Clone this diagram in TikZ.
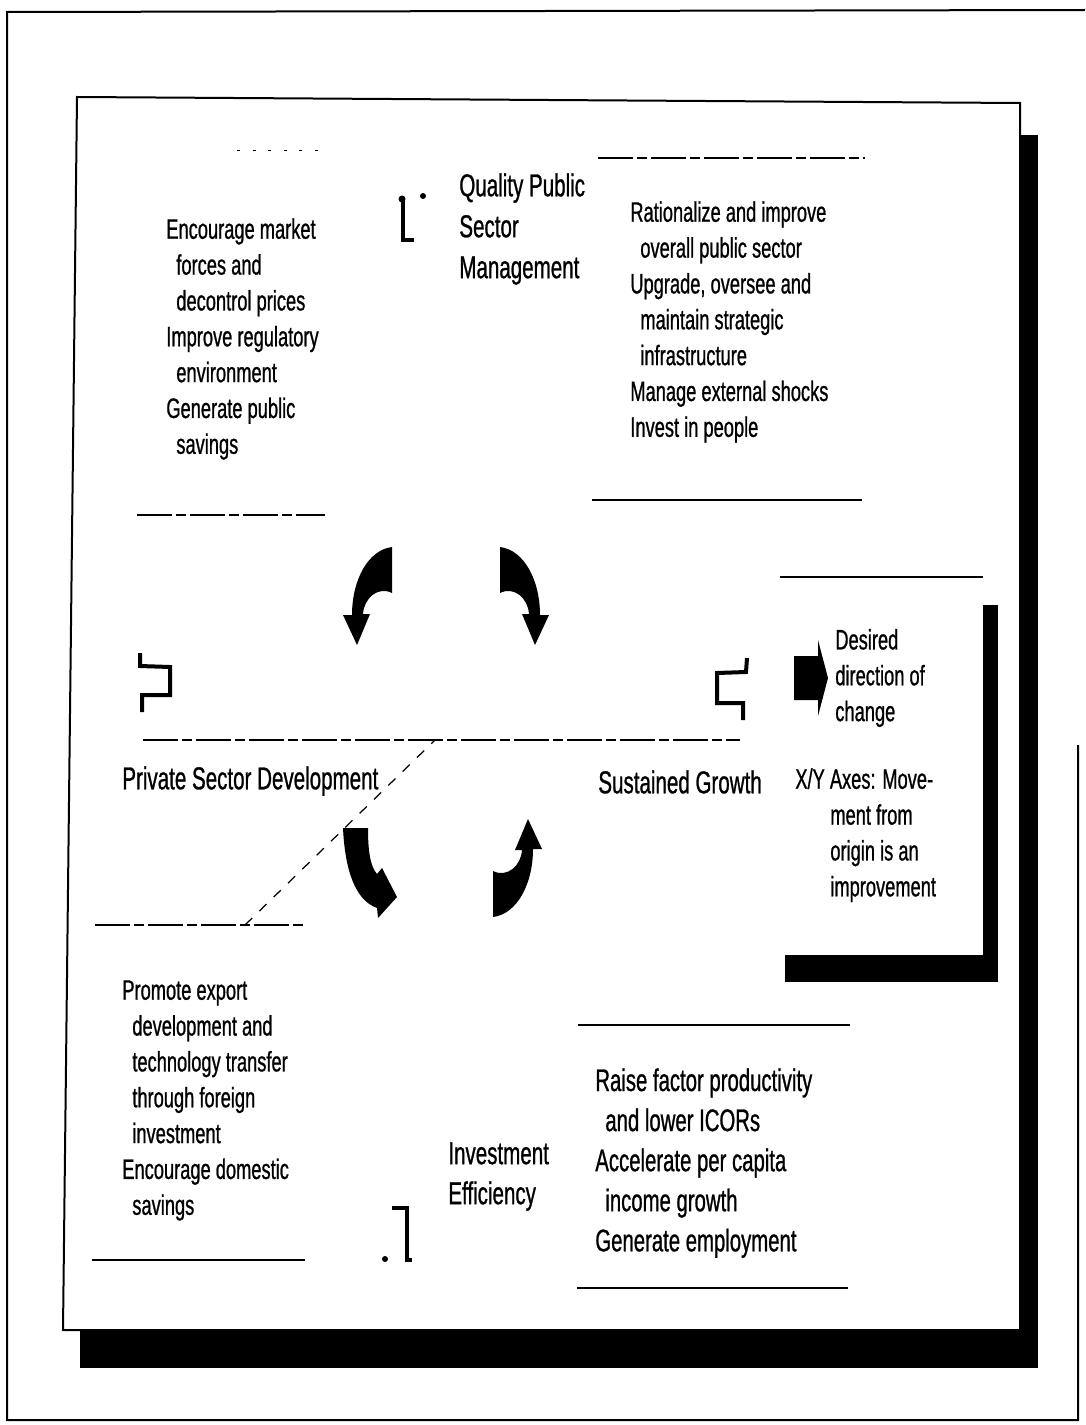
\documentclass[tikz,border=0pt]{standalone}
\usepackage{fontspec}
\setmainfont{Liberation Sans}[FakeStretch=0.65,FakeBold=0.8]
\usetikzlibrary{positioning}
\newcommand\indt{\hspace*{2mm}}

\begin{document}
\begin{tikzpicture}
    [
    x=0.2mm, y=-0.2mm,
    listtext/.style={anchor=north west, align=left, inner sep=0pt, font=\fontsize{16}{20.4}\selectfont},
    heading/.style={anchor=north west, align=left, inner sep=0pt, font=\fontsize{18}{23.3}\selectfont},
    rule/.style={line width=0.25mm, dash pattern=on 7mm off 0.8mm on 2mm off 0.8mm},
    solidrule/.style={line width=0.3mm},
    shadow/.style={fill=black},
    marker/.style={line width=0.8mm},
    curl/.pic={\fill (392,547) -- (392,593) .. controls (378,586) and (364,598) .. (363,614)
        -- (370,614) -- (357,645) -- (343,615) -- (352,615)
        .. controls (352,580) and (368,550) .. (392,547) -- cycle;},
    ]
    \useasboundingbox (0,0) rectangle (1085,1425);

    % page frame
    \draw [line width=0.4mm] (1085,10) -- (7,12) -- (7,1420) -- (1078,1420) -- (1078,745);

    % main box and its shadow
    \fill [shadow] (1020,135) rectangle (1038,1368);
    \fill [shadow] (80,1330) rectangle (1038,1368);
    \draw [line width=0.4mm, fill=white] (77,97) -- (1020,103) -- (1020,1330) -- (63,1330) -- cycle;

    % legend box
    \fill [shadow] (983,605) rectangle (998,982);
    \fill [shadow] (785,955) rectangle (998,982);
    \draw [solidrule] (780,577) -- (983,577);

    % rules
    \draw [line width=0.2mm, dash pattern=on 0.6mm off 2.5mm] (237,150) -- (322,150);
    \draw [rule] (598,158) -- (865,158);
    \draw [rule] (137,515) -- (325,515);
    \draw [solidrule] (592,500) -- (862,500);
    \draw [rule] (95,925) -- (305,925);
    \draw [solidrule] (578,1025) -- (850,1025);
    \draw [solidrule] (92,1260) -- (305,1260);
    \draw [solidrule] (577,1288) -- (848,1288);

    % axes
    \coordinate (origin) at (435,740);
    \coordinate (xend) at (143,740);
    \coordinate (yend) at (740,740);
    \coordinate (diagend) at (245,925);
    \draw [rule] (xend) -- (origin) -- (yend);
    \draw [line width=0.25mm, dash pattern=on 2mm off 2mm] (diagend) -- (origin);

    % axis markers
    \draw [marker] (403,198) -- (403,240) -- (414,240);
    \fill (402,199) circle (0.7mm);
    \fill (423,196) circle (0.6mm);
    \draw [marker] (140,653) -- (140,666) -- (170,667) -- (170,695) -- (142,695) -- (142,712);
    \draw [marker] (747,658) -- (746,672) -- (717,673) -- (717,703) -- (743,703) -- (743,720);
    \draw [marker] (392,1208) -- (407,1208) -- (407,1260) -- (412,1260);
    \fill (385,1259) circle (0.6mm);

    % curved arrows
    \pic at (0,0) {curl};
    \pic [xscale=-1] at (892,0) {curl};
    \pic [rotate=180] at (885,1464) {curl};
    \fill (343,828) -- (368,828) .. controls (368,850) and (370,866) .. (377,874)
        -- (382,868) -- (397,897) -- (378,918) -- (377,908)
        .. controls (355,900) and (345,870) .. (343,828) -- cycle;

    % texts
    \node (mktlist) [listtext] at (166,218) {Encourage market\\\indt forces and\\\indt decontrol prices\\Improve regulatory\\\indt environment\\Generate public\\\indt savings};
    \node (qpsm) [heading] at (459,173) {Quality Public\\Sector\\Management};
    \node (publist) [listtext] at (630,201) {Rationalize and improve\\\indt overall public sector\\Upgrade, oversee and\\\indt maintain strategic\\\indt infrastructure\\Manage external shocks\\Invest in people};
    \node (psd) [heading] at (122,766) {Private Sector Development};
    \node (sg) [heading] at (598,770) {Sustained Growth};
    \node (explist) [listtext] at (122,980) {Promote export\\\indt development and\\\indt technology transfer\\\indt through foreign\\\indt investment\\Encourage domestic\\\indt savings};
    \node (ieff) [heading, font=\fontsize{18}{22.8}\selectfont] at (448,1142) {Investment\\Efficiency};
    \node (growlist) [listtext, font=\fontsize{17.8}{22.8}\selectfont] at (595,1068) {Raise factor productivity\\\indt and lower ICORs\\Accelerate per capita\\\indt income growth\\Generate employment};

    % legend
    \coordinate (legarrow) at (810,678);
    \fill (794,656) -- (818,656) -- (818,640) -- (828,678) -- (818,716) -- (818,700) -- (794,700) -- cycle;
    \node (legdir) [listtext, right=5mm of legarrow] {Desired\\direction of\\change};
    \node (legaxes) [listtext] at (795,768) {X/Y Axes: Move-\\\hspace*{7mm}ment from\\\hspace*{7mm}origin is an\\\hspace*{7mm}improvement};
\end{tikzpicture}
\end{document}
